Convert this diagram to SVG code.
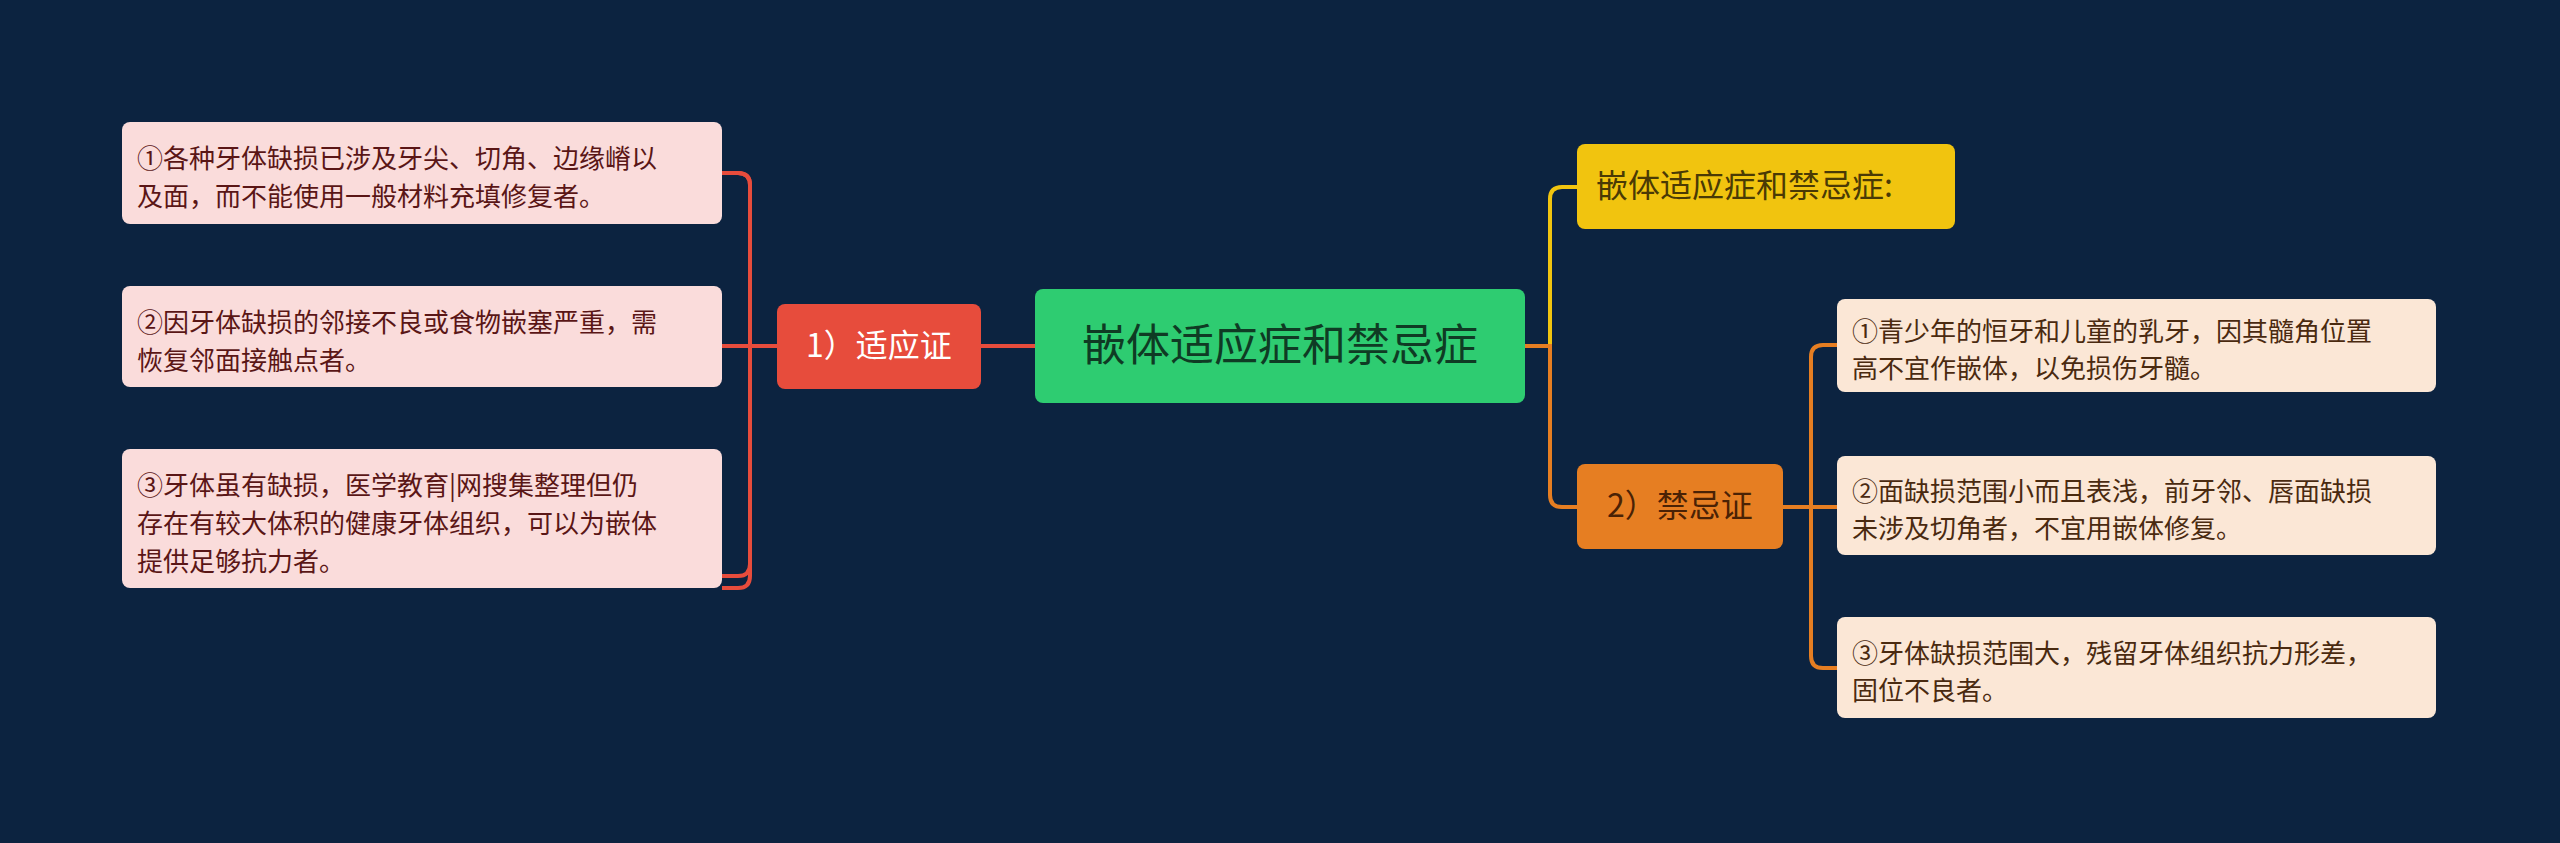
<svg xmlns="http://www.w3.org/2000/svg" width="2560" height="843" viewBox="0 0 2560 843">
<style>
text{font-family:"Noto Sans CJK SC","Liberation Sans",sans-serif}
.ll{fill:#fadcdb}.lt{fill:#5a1616;font-size:26px}
.rl{fill:#fbe7d6}.rt{fill:#4a2a10;font-size:26px}
.c{fill:none;stroke-width:4}
</style>
<rect width="2560" height="843" fill="#0c2340"/>
<g id="connectors">
<path class="c" stroke="#e74c3c" d="M1035 346H981M777 346H750M722 173H738Q750 173 750 185V576Q750 588 738 588H722M722 346H750"/>
<path class="c" stroke="#e74c3c" d="M722 173H738Q750 173 750 185V564Q750 576 738 576H722"/>
<path class="c" stroke="#f1c40f" d="M1525 346H1550V199Q1550 187 1562 187H1577"/>
<path class="c" stroke="#e67e22" d="M1525 346H1550V495Q1550 507 1562 507H1577M1783 507H1837M1837 345H1823Q1811 345 1811 357V656Q1811 668 1823 668H1837"/>
</g>
<g id="center"><rect x="1035" y="289" width="490" height="114" rx="8" fill="#2ecc71"/><text x="1280" y="361" font-size="44" fill="#0f3b24" text-anchor="middle">嵌体适应症和禁忌症</text></g>
<g id="n1"><rect x="777" y="304" width="204" height="85" rx="8" fill="#e74c3c"/><text x="879" y="357" font-size="32" fill="#ffffff" text-anchor="middle">1）适应证</text></g>
<g id="l1"><rect class="ll" x="122" y="122" width="600" height="102" rx="8"/><text class="lt" x="137" y="168">①各种牙体缺损已涉及牙尖、切角、边缘嵴以</text><text class="lt" x="137" y="206">及面，而不能使用一般材料充填修复者。</text></g>
<g id="l2"><rect class="ll" x="122" y="286" width="600" height="101" rx="8"/><text class="lt" x="137" y="332">②因牙体缺损的邻接不良或食物嵌塞严重，需</text><text class="lt" x="137" y="370">恢复邻面接触点者。</text></g>
<g id="l3"><rect class="ll" x="122" y="449" width="600" height="139" rx="8"/><text class="lt" x="137" y="495">③牙体虽有缺损，医学教育|网搜集整理但仍</text><text class="lt" x="137" y="533">存在有较大体积的健康牙体组织，可以为嵌体</text><text class="lt" x="137" y="571">提供足够抗力者。</text></g>
<g id="y1"><rect x="1577" y="144" width="378" height="85" rx="8" fill="#f1c40f"/><text x="1596" y="197" font-size="32" fill="#4a3a05">嵌体适应症和禁忌症:</text></g>
<g id="n2"><rect x="1577" y="464" width="206" height="85" rx="8" fill="#e67e22"/><text x="1680" y="517" font-size="32" fill="#4a2205" text-anchor="middle">2）禁忌证</text></g>
<g id="r1"><rect class="rl" x="1837" y="299" width="599" height="93" rx="8"/><text class="rt" x="1852" y="341">①青少年的恒牙和儿童的乳牙，因其髓角位置</text><text class="rt" x="1852" y="378">高不宜作嵌体，以免损伤牙髓。</text></g>
<g id="r2"><rect class="rl" x="1837" y="456" width="599" height="99" rx="8"/><text class="rt" x="1852" y="501">②面缺损范围小而且表浅，前牙邻、唇面缺损</text><text class="rt" x="1852" y="538">未涉及切角者，不宜用嵌体修复。</text></g>
<g id="r3"><rect class="rl" x="1837" y="617" width="599" height="101" rx="8"/><text class="rt" x="1852" y="663">③牙体缺损范围大，残留牙体组织抗力形差，</text><text class="rt" x="1852" y="700">固位不良者。</text></g>
</svg>
